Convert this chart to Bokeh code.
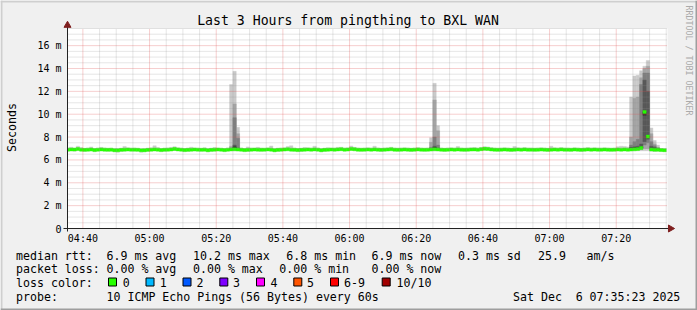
import pandas as pd
from bokeh.plotting import figure
from bokeh.models import Range1d, ColumnDataSource
from bokeh.core.properties import value
from bokeh.embed import file_html
from bokeh.resources import INLINE

MONO = "DejaVu Sans Mono"

# ---------------- data ----------------
graph_title = "Last 3 Hours from pingthing to BXL WAN"
graph_start = "2025-12-06 04:35:23"
graph_end = "2025-12-06 07:35:23"
first_bucket = "2025-12-06 04:35:00"
step_seconds = 60

median_ms = [
    6.90, 6.92, 6.91, 6.95, 6.90, 6.88, 6.90, 6.91, 6.86, 6.90,
    6.92, 6.90, 6.89, 6.90, 6.85, 6.84, 6.88, 6.90, 6.91, 6.90,
    6.90, 6.89, 6.84, 6.85, 6.88, 6.90, 6.92, 6.90, 6.86, 6.89,
    6.90, 6.91, 6.96, 6.92, 6.90, 6.86, 6.88, 6.90, 6.91, 6.90,
    6.89, 6.90, 6.85, 6.88, 6.90, 6.91, 6.90, 6.86, 6.90, 6.92,
    6.93, 6.91, 6.90, 6.86, 6.88, 6.90, 6.91, 6.90, 6.89, 6.90,
    6.92, 6.90, 6.85, 6.88, 6.90, 6.91, 6.93, 6.90, 6.89, 6.86,
    6.88, 6.90, 6.91, 6.90, 6.92, 6.90, 6.85, 6.88, 6.90, 6.91,
    6.90, 6.92, 6.94, 6.90, 6.91, 6.96, 6.93, 6.90, 6.89, 6.90,
    6.91, 6.90, 6.92, 6.90, 6.88, 6.90, 6.91, 6.93, 6.90, 6.89,
    6.90, 6.91, 6.90, 6.88, 6.90, 6.92, 6.90, 6.89, 6.90, 6.91,
    6.93, 6.92, 6.90, 6.88, 6.90, 6.91, 6.90, 6.92, 6.90, 6.89,
    6.90, 6.91, 6.92, 6.90, 6.94, 6.97, 6.96, 6.92, 6.90, 6.89,
    6.90, 6.91, 6.90, 6.88, 6.90, 6.91, 6.90, 6.92, 6.90, 6.90,
    6.89, 6.90, 6.91, 6.90, 6.88, 6.90, 6.91, 6.90, 6.92, 6.90,
    6.90, 6.89, 6.91, 6.90, 6.88, 6.90, 6.92, 6.90, 6.91, 6.90,
    6.90, 6.91, 6.90, 6.89, 6.90, 6.91, 6.90, 6.92, 6.90, 6.91,
    6.93, 6.95, 7.05, 10.20, 8.04, 6.92, 6.90, 6.90, 6.86, 6.85,
]

ping_max_ms = [
    7.05, 7.12, 7.02, 7.20, 7.08, 7.00, 7.04, 7.14, 7.00, 7.03,
    7.10, 7.05, 7.00, 7.02, 6.98, 7.00, 7.02, 7.18, 7.06, 7.02,
    7.04, 7.00, 6.96, 6.98, 7.02, 7.06, 7.24, 7.08, 7.00, 7.02,
    7.05, 7.10, 7.16, 7.06, 7.02, 7.00, 7.04, 7.12, 7.05, 7.02,
    7.00, 7.06, 7.00, 7.02, 7.08, 7.04, 7.00, 7.00, 7.05, 7.10,
    7.10, 7.08, 7.05, 7.00, 7.14, 7.04, 7.02, 7.10, 7.04, 7.00,
    7.05, 7.22, 7.00, 7.02, 7.04, 7.06, 7.18, 7.24, 7.04, 7.00,
    7.02, 7.08, 7.06, 7.04, 7.20, 7.05, 7.00, 7.02, 7.06, 7.04,
    7.04, 7.10, 7.12, 7.04, 7.06, 7.22, 7.10, 7.04, 7.02, 7.04,
    7.06, 7.04, 7.20, 7.05, 7.02, 7.04, 7.06, 7.12, 7.04, 7.02,
    7.04, 7.06, 7.04, 7.02, 7.05, 7.08, 7.04, 7.02, 7.04, 7.10,
    7.10, 7.10, 7.05, 7.02, 7.04, 7.06, 7.04, 7.18, 7.05, 7.02,
    7.04, 7.06, 7.08, 7.04, 7.10, 7.16, 7.14, 7.08, 7.04, 7.02,
    7.04, 7.06, 7.04, 7.02, 7.18, 7.06, 7.04, 7.08, 7.04, 7.04,
    7.02, 7.04, 7.06, 7.04, 7.02, 7.20, 7.06, 7.04, 7.08, 7.04,
    7.04, 7.02, 7.06, 7.04, 7.02, 7.04, 7.08, 7.04, 7.06, 7.04,
    7.04, 7.06, 7.04, 7.02, 7.04, 7.16, 7.20, 7.18, 7.14, 7.10,
    7.10, 7.10, 7.10, 7.10, 7.10, 7.10, 7.06, 7.04, 7.00, 6.98,
]

ping_min_ms = [
    6.78, 6.80, 6.76, 6.82, 6.78, 6.74, 6.78, 6.80, 6.72, 6.78,
    6.80, 6.78, 6.76, 6.78, 6.70, 6.68, 6.74, 6.78, 6.80, 6.78,
    6.78, 6.76, 6.68, 6.70, 6.74, 6.78, 6.80, 6.78, 6.72, 6.76,
    6.78, 6.80, 6.82, 6.80, 6.78, 6.72, 6.74, 6.78, 6.80, 6.78,
    6.76, 6.78, 6.70, 6.74, 6.78, 6.80, 6.78, 6.72, 6.78, 6.80,
    6.80, 6.80, 6.78, 6.72, 6.74, 6.78, 6.80, 6.78, 6.76, 6.78,
    6.80, 6.78, 6.70, 6.74, 6.78, 6.80, 6.82, 6.78, 6.76, 6.72,
    6.74, 6.78, 6.80, 6.78, 6.80, 6.78, 6.70, 6.74, 6.78, 6.80,
    6.78, 6.80, 6.82, 6.78, 6.80, 6.84, 6.82, 6.78, 6.76, 6.78,
    6.80, 6.78, 6.80, 6.78, 6.74, 6.78, 6.80, 6.82, 6.78, 6.76,
    6.78, 6.80, 6.78, 6.74, 6.78, 6.80, 6.78, 6.76, 6.78, 6.80,
    6.80, 6.80, 6.78, 6.74, 6.78, 6.80, 6.78, 6.80, 6.78, 6.76,
    6.78, 6.80, 6.80, 6.78, 6.82, 6.84, 6.84, 6.80, 6.78, 6.76,
    6.78, 6.80, 6.78, 6.74, 6.78, 6.80, 6.78, 6.80, 6.78, 6.78,
    6.76, 6.78, 6.80, 6.78, 6.74, 6.78, 6.80, 6.78, 6.80, 6.78,
    6.78, 6.76, 6.80, 6.78, 6.74, 6.78, 6.80, 6.78, 6.80, 6.78,
    6.78, 6.80, 6.78, 6.76, 6.78, 6.80, 6.78, 6.80, 6.78, 6.80,
    6.80, 6.80, 6.80, 6.80, 6.80, 6.78, 6.76, 6.78, 6.74, 6.72,
]

# buckets with clearly visible smoke: the 10 sorted ping times (ms)
spike_bucket = [49, 50, 51, 109, 110, 111, 169, 170, 171, 172, 173, 174, 175, 176, 177]
spike_pings_ms = [
    [6.80, 6.86, 6.88, 6.90, 6.92, 6.94, 6.98, 7.05, 7.20, 12.60],
    [6.80, 6.86, 6.95, 7.00, 7.05, 7.15, 7.30, 9.70, 10.90, 13.75],
    [6.78, 6.85, 6.88, 6.92, 6.95, 7.00, 7.05, 7.90, 8.30, 8.85],
    [6.80, 6.86, 6.88, 6.90, 6.92, 6.95, 7.00, 7.10, 7.55, 7.95],
    [6.80, 6.88, 6.95, 7.00, 7.02, 7.10, 7.20, 8.00, 11.25, 12.70],
    [6.78, 6.86, 6.90, 6.92, 6.95, 7.00, 7.05, 7.30, 8.55, 9.00],
    [6.80, 6.86, 6.90, 6.95, 7.00, 7.05, 7.10, 7.30, 8.00, 11.50],
    [6.80, 6.90, 6.95, 7.00, 7.02, 7.08, 7.15, 7.60, 11.40, 13.35],
    [6.80, 6.90, 6.95, 7.00, 7.02, 7.08, 7.20, 7.80, 11.50, 13.40],
    [6.80, 6.90, 7.00, 7.02, 7.05, 7.10, 7.40, 12.60, 13.20, 13.80],
    [6.80, 7.00, 7.30, 7.60, 9.90, 10.20, 13.00, 13.60, 14.00, 14.20],
    [6.80, 7.00, 7.50, 7.80, 7.95, 8.10, 12.00, 13.60, 14.20, 14.70],
    [6.76, 6.82, 6.88, 6.95, 7.00, 7.05, 7.20, 7.60, 8.30, 8.80],
    [6.74, 6.80, 6.86, 6.90, 6.95, 7.00, 7.10, 7.25, 7.40, 7.70],
    [6.76, 6.82, 6.86, 6.90, 6.92, 6.95, 7.00, 7.05, 7.12, 7.30],
]

y_tick_ms = [0, 2, 4, 6, 8, 10, 12, 14, 16]
y_tick_text = ["0", "2 m", "4 m", "6 m", "8 m", "10 m", "12 m", "14 m", "16 m"]
y_max_ms = 17.5
x_tick_times = ["04:40", "05:00", "05:20", "05:40", "06:00", "06:20", "06:40", "07:00", "07:20"]

smoke_colors = ["#cacaca", "#a4a4a4", "#7e7e7e", "#585858", "#323232"]
loss_labels = ["0", "1", "2", "3", "4", "5", "6-9", "10/10"]
loss_colors = ["#26ff00", "#00b8ff", "#0059ff", "#7e00ff", "#ff00ff", "#ff5500", "#ff0000", "#a10000"]

rtt_stats = ["6.9 ms avg", "10.2 ms max", "6.8 ms min", "6.9 ms now", "0.3 ms sd", "25.9", "am/s"]
loss_stats = ["0.00 % avg", "0.00 % max", "0.00 % min", "0.00 % now"]
probe_text = "10 ICMP Echo Pings (56 Bytes) every 60s"
stamp_day = "Sat Dec"
stamp_rest = "6 07:35:23 2025"

# ---------------- geometry ----------------
def ms(ts):
    return pd.Timestamp(ts).value / 1e6

W, H = 697, 310
FL, FR, FT, FB = 67, 667, 28, 228          # graph area on the canvas (px)
t0, t1 = ms(graph_start), ms(graph_end)
spp = (t1 - t0) / (FR - FL)                # ms of time per pixel
upp = y_max_ms / (FB - FT)                 # ms of rtt per pixel

p = figure(width=W, height=H,
           x_range=Range1d(t0 - FL * spp, t1 + (W - FR) * spp),
           y_range=Range1d(-(H - FB) * upp, y_max_ms + FT * upp),
           x_axis_location=None, y_axis_location=None, title=None,
           min_border=0, output_backend="svg", toolbar_location=None,
           background_fill_color="#f0f0f0", border_fill_color="#f0f0f0",
           outline_line_color=None)
for g in p.grid:
    g.visible = False
p.extra_x_ranges = {"px": Range1d(0, W)}
p.extra_y_ranges = {"px": Range1d(H, 0)}

# white canvas of the graph
p.quad(left=[t0], right=[t1], bottom=[0], top=[y_max_ms], fill_color="#ffffff", line_color=None)

# ---------------- smoke ----------------
bucket_left = [ms(t) for t in pd.date_range(first_bucket, periods=len(median_ms), freq=f"{step_seconds}s")]
bucket_right = [v + step_seconds * 1000 for v in bucket_left]
bucket_left[0] = max(bucket_left[0], t0)
spike_map = dict(zip(spike_bucket, spike_pings_ms))

for k in range(5):
    L, R, B, T = [], [], [], []
    for i in range(len(median_ms)):
        if i in spike_map:
            pk = sorted(spike_map[i])
            b, t = pk[k], pk[9 - k]
        elif k == 0:
            b, t = ping_min_ms[i], ping_max_ms[i]
        else:
            continue
        L.append(bucket_left[i]); R.append(bucket_right[i]); B.append(b); T.append(t)
    src = ColumnDataSource(dict(left=L, right=R, bottom=B, top=T))
    p.quad(left="left", right="right", bottom="bottom", top="top", source=src,
           fill_color=smoke_colors[k], line_color=smoke_colors[k], line_width=0.4)

# ---------------- median (loss colour 0) ----------------
half = 1.5 * upp
msrc = ColumnDataSource(dict(left=bucket_left, right=bucket_right,
                             bottom=[m - half for m in median_ms],
                             top=[m + half for m in median_ms]))
p.quad(left="left", right="right", bottom="bottom", top="top", source=msrc,
       fill_color=loss_colors[0], line_color=loss_colors[0], line_width=0.4)

# ---------------- grid (drawn over the graph, like rrdtool) ----------------
x_major = [ms(f"2025-12-06 {t}") for t in x_tick_times]
x_minor = [ms(t) for t in pd.date_range("2025-12-06 04:40", "2025-12-06 07:35", freq="5min")
           if ms(t) not in x_major]
y_minor = [v / 2 for v in range(1, int(y_max_ms * 2) + 1) if (v / 2) not in y_tick_ms]

def vlines(xs, color, alpha):
    p.segment(x0=xs, x1=xs, y0=[0] * len(xs), y1=[y_max_ms] * len(xs),
              line_color=color, line_alpha=alpha, line_dash="1 1", line_width=1)

def hlines(ys, color, alpha):
    p.segment(x0=[t0] * len(ys), x1=[t1] * len(ys), y0=ys, y1=ys,
              line_color=color, line_alpha=alpha, line_dash="1 1", line_width=1)

vlines(x_minor, "#8f8f8f", 0.45)
hlines(y_minor, "#8f8f8f", 0.45)
vlines(x_major, "#de5050", 0.55)
hlines(y_tick_ms[1:], "#de5050", 0.55)

# ---------------- axes with arrows ----------------
p.segment(x0=[t0], x1=[t0], y0=[-3 * upp], y1=[y_max_ms + 3 * upp], line_color="#222222", line_width=1)
p.segment(x0=[t0 - 4 * spp], x1=[t1 + 1 * spp], y0=[0], y1=[0], line_color="#222222", line_width=1)
p.scatter(x=[t0], y=[y_max_ms + 3.2 * upp], marker="triangle", size=7,
          fill_color="#7f1f1f", line_color="#7f1f1f")
p.scatter(x=[t1 + 3 * spp], y=[0], marker="triangle", size=7, angle=-1.5707963,
          fill_color="#7f1f1f", line_color="#7f1f1f")

# ---------------- texts ----------------
def txt(xs, ys, texts, size, align="left", angle=0.0, color="#000000", xr="px", yr="px"):
    src = ColumnDataSource(dict(x=xs, y=ys, text=texts))
    p.text(x="x", y="y", text="text", source=src, x_range_name=xr, y_range_name=yr,
           text_font=value(MONO), text_font_size=value(f"{size}px"), text_align=value(align),
           text_baseline=value("middle"), angle=angle, text_color=color)

# tick labels: positions from the data scales
txt([FL - 6] * len(y_tick_ms), y_tick_ms, y_tick_text, 10, align="right", yr="default")
txt(x_major, [238] * len(x_major), x_tick_times, 10, align="center", xr="default")

txt([347.5], [19.5], [graph_title], 13.2, align="center")
txt([11], [127], ["Seconds"], 11.6, align="center", angle=1.5707963)
txt([688.5], [60], ["RRDTOOL / TOBI OETIKER"], 8.3, align="center", angle=-1.5707963, color="#aaaaaa")

row_y = [255, 268.5, 282, 296]
txt([15.5], [row_y[0]], ["median rtt:"], 11.6)
txt([106, 192.5, 285.8, 371, 457.5, 537.5, 586], [row_y[0]] * len(rtt_stats), rtt_stats, 11.6)
txt([15.5], [row_y[1]], ["packet loss:"], 11.6)
txt([106, 192.5, 278.8, 371], [row_y[1]] * len(loss_stats), loss_stats, 11.6)
txt([15.5], [row_y[2]], ["loss color:"], 11.6)
lab_x = [122.3, 159.3, 196, 232.5, 270, 306.6, 343.5, 396]
txt(lab_x, [row_y[2]] * len(loss_labels), loss_labels, 11.6)
txt([15.5], [row_y[3]], ["probe:"], 11.6)
txt([106], [row_y[3]], [probe_text], 11.6)
txt([512.5, 512.5 + 9 * 6.96], [row_y[3]] * 2, [stamp_day, stamp_rest], 11.6)

# legend colour boxes
box_x = [108, 145.5, 182.5, 219.3, 256, 293.3, 330, 381.7]
bsrc = ColumnDataSource(dict(left=box_x, right=[b + 8 for b in box_x],
                             top=[277.5] * len(box_x), bottom=[285.5] * len(box_x),
                             color=loss_colors))
p.quad(left="left", right="right", top="top", bottom="bottom", source=bsrc,
       fill_color="color", line_color="#000000", line_width=1,
       x_range_name="px", y_range_name="px")

# rrdtool 3d frame
shade = ColumnDataSource(dict(left=[0, 0, 0, W - 2], right=[W, 2, W, W],
                              top=[0, 0, H - 2, 0], bottom=[2, H, H, H],
                              color=["#cfcfcf", "#cfcfcf", "#9e9e9e", "#9e9e9e"]))
p.quad(left="left", right="right", top="top", bottom="bottom", source=shade,
       fill_color="color", line_color=None, x_range_name="px", y_range_name="px")

open("out.html", "w").write(file_html(p, INLINE))
